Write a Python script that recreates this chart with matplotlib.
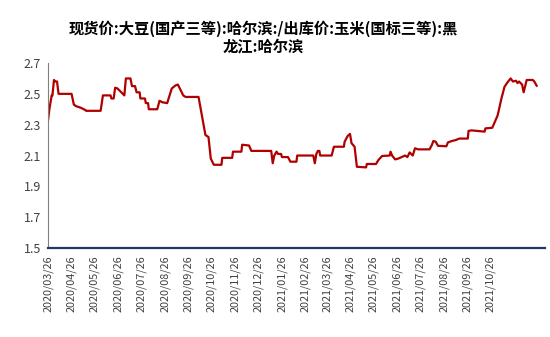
import pandas as pd
import matplotlib.pyplot as plt
import matplotlib.dates as mdates

plt.rcParams['font.family'] = ['Noto Sans CJK SC', 'DejaVu Sans']

# values
dates = ['2020-03-26', '2020-03-28', '2020-03-31', '2020-04-01', '2020-04-03', '2020-04-05',
         '2020-04-07', '2020-04-09', '2020-04-26', '2020-04-29', '2020-05-02', '2020-05-08',
         '2020-05-14', '2020-05-15', '2020-06-03', '2020-06-06', '2020-06-16', '2020-06-17',
         '2020-06-20', '2020-06-22', '2020-06-25', '2020-07-04', '2020-07-06', '2020-07-12',
         '2020-07-14', '2020-07-18', '2020-07-20', '2020-07-24', '2020-07-25', '2020-07-31',
         '2020-08-01', '2020-08-04', '2020-08-05', '2020-08-16', '2020-08-19', '2020-08-23',
         '2020-08-29', '2020-09-04', '2020-09-09', '2020-09-12', '2020-09-19', '2020-09-22',
         '2020-10-09', '2020-10-18', '2020-10-22', '2020-10-25', '2020-10-29', '2020-11-08',
         '2020-11-09', '2020-11-22', '2020-11-23', '2020-12-04', '2020-12-05', '2020-12-14',
         '2020-12-17', '2021-01-12', '2021-01-14', '2021-01-16', '2021-01-19', '2021-01-21',
         '2021-01-25', '2021-01-26', '2021-02-03', '2021-02-06', '2021-02-14', '2021-02-15',
         '2021-03-08', '2021-03-10', '2021-03-12', '2021-03-14', '2021-03-16', '2021-03-17',
         '2021-04-01', '2021-04-04', '2021-04-17', '2021-04-18', '2021-04-22', '2021-04-25',
         '2021-04-27', '2021-05-01', '2021-05-04', '2021-05-16', '2021-05-17', '2021-05-29',
         '2021-06-01', '2021-06-06', '2021-06-16', '2021-06-17', '2021-06-19', '2021-06-23',
         '2021-06-27', '2021-07-06', '2021-07-09', '2021-07-12', '2021-07-16', '2021-07-19',
         '2021-07-23', '2021-08-07', '2021-08-10', '2021-08-12', '2021-08-15', '2021-08-18',
         '2021-08-29', '2021-08-31', '2021-09-05', '2021-09-10', '2021-09-15', '2021-09-26',
         '2021-09-27', '2021-10-01', '2021-10-18', '2021-10-19', '2021-10-28', '2021-11-04',
         '2021-11-09', '2021-11-13', '2021-11-17', '2021-11-21', '2021-11-24', '2021-11-28',
         '2021-11-30', '2021-12-02', '2021-12-06', '2021-12-08', '2021-12-12', '2021-12-20',
         '2021-12-22', '2021-12-25']
ratio = [2.32, 2.40, 2.49, 2.49, 2.59, 2.58,
         2.58, 2.50, 2.50, 2.43, 2.42, 2.41,
         2.395, 2.39, 2.39, 2.49, 2.49, 2.47,
         2.47, 2.54, 2.535, 2.49, 2.60, 2.60,
         2.55, 2.55, 2.51, 2.51, 2.47, 2.47,
         2.44, 2.44, 2.40, 2.40, 2.455, 2.445,
         2.44, 2.535, 2.555, 2.56, 2.49, 2.48,
         2.48, 2.233, 2.22, 2.08, 2.04, 2.04,
         2.085, 2.085, 2.125, 2.125, 2.17, 2.165,
         2.13, 2.13, 2.05, 2.10, 2.125, 2.11,
         2.11, 2.09, 2.09, 2.06, 2.06, 2.10,
         2.10, 2.05, 2.11, 2.13, 2.13, 2.10,
         2.10, 2.157, 2.157, 2.19, 2.227, 2.24,
         2.18, 2.157, 2.027, 2.023, 2.045, 2.045,
         2.07, 2.097, 2.10, 2.125, 2.10, 2.075,
         2.08, 2.10, 2.09, 2.12, 2.10, 2.147,
         2.14, 2.14, 2.168, 2.194, 2.19, 2.163,
         2.16, 2.185, 2.194, 2.20, 2.21, 2.21,
         2.26, 2.263, 2.255, 2.276, 2.28, 2.36,
         2.47, 2.546, 2.575, 2.60, 2.58, 2.585,
         2.57, 2.58, 2.56, 2.51, 2.59, 2.59,
         2.58, 2.553]

tick_dates = pd.date_range('2020-03-01', '2021-10-01', freq='MS') + pd.Timedelta(days=25)
y_ticks = [1.5, 1.7, 1.9, 2.1, 2.3, 2.5, 2.7]

title = '现货价:大豆(国产三等):哈尔滨:/出库价:玉米(国标三等):黑\n龙江:哈尔滨'

df = pd.DataFrame({'date': pd.to_datetime(dates), 'ratio': ratio})

fig = plt.figure(figsize=(5.5, 3.37), dpi=100)
ax = fig.add_axes([0.087, 0.264, 0.904, 0.549])

ax.plot(df['date'], df['ratio'], color='#B00000', linewidth=1.6)

ax.set_ylim(1.5, 2.7)
ax.set_yticks(y_ticks)
ax.set_yticklabels(['%.1f' % v for v in y_ticks], fontsize=9, color='#404040')
ax.set_xlim(pd.Timestamp('2020-03-26'), pd.Timestamp('2022-01-05'))
ax.set_xticks(tick_dates)
ax.xaxis.set_major_formatter(mdates.DateFormatter('%Y/%m/%d'))
for lab in ax.get_xticklabels():
    lab.set_rotation(90)
    lab.set_fontsize(7.8)
    lab.set_color('#404040')
ax.tick_params(length=0, pad=5)

ax.spines['top'].set_visible(False)
ax.spines['right'].set_visible(False)
ax.spines['left'].set_color('#808080')
ax.spines['left'].set_linewidth(0.8)
ax.spines['bottom'].set_color('#1F3864')
ax.spines['bottom'].set_linewidth(1.6)

fig.text(0.478, 0.94, title, ha='center', va='top', fontsize=11, fontweight='bold',
         linespacing=1.15)

fig.savefig('out.png', dpi=100)
